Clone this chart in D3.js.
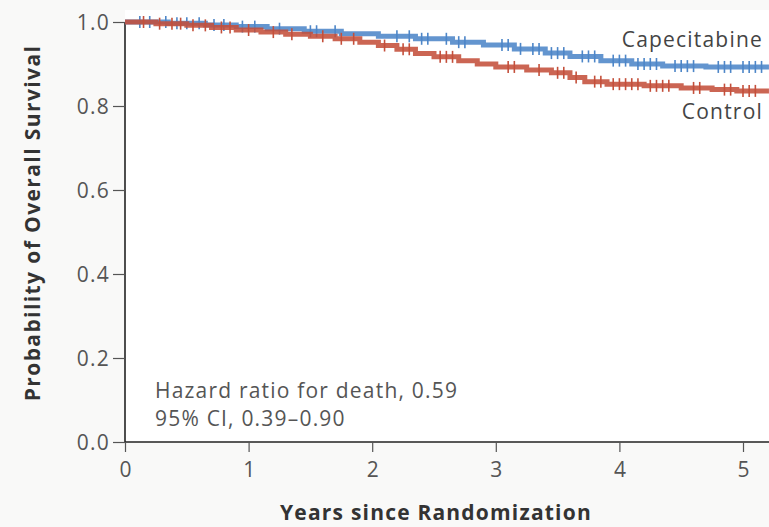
<!DOCTYPE html>
<html>
<head>
<meta charset="utf-8">
<script src="https://cdn.jsdelivr.net/npm/d3@7"></script>
<style>
  html, body { margin: 0; padding: 0; background: #f9f9f8; }
  svg { display: block; }
  text { font-family: "Open Sans", "DejaVu Sans", sans-serif; }
</style>
</head>
<body>
<svg id="chart" width="769" height="527"></svg>
<script>
// Kaplan-Meier step estimates: [years, survival probability]
const capecitabineSteps = [
  [0, 1.0], [0.35, 0.997], [0.65, 0.993], [0.9, 0.989], [1.15, 0.984],
  [1.45, 0.978], [1.75, 0.972], [2.05, 0.966], [2.35, 0.960], [2.65, 0.952],
  [2.9, 0.945], [3.15, 0.936], [3.4, 0.926], [3.6, 0.918], [3.85, 0.908],
  [4.1, 0.900], [4.35, 0.895], [4.7, 0.893]
];
const controlSteps = [
  [0, 1.0], [0.25, 0.996], [0.5, 0.992], [0.7, 0.987], [0.9, 0.981],
  [1.1, 0.976], [1.3, 0.971], [1.5, 0.966], [1.7, 0.960], [1.9, 0.952],
  [2.05, 0.944], [2.2, 0.935], [2.35, 0.925], [2.5, 0.917], [2.7, 0.908],
  [2.85, 0.900], [3.0, 0.893], [3.25, 0.886], [3.45, 0.879], [3.6, 0.868],
  [3.72, 0.858], [3.9, 0.852], [4.2, 0.848], [4.5, 0.843], [4.75, 0.839],
  [4.95, 0.836]
];
// Censoring times (years)
const capecitabineCensored = [
  0.12, 0.2, 0.33, 0.42, 0.5, 0.6, 0.72, 0.8, 0.95, 1.05, 1.25, 1.5, 1.55,
  1.7, 2.2, 2.3, 2.4, 2.45, 2.6, 2.7, 2.75, 3.05, 3.1, 3.2, 3.3, 3.35, 3.45,
  3.5, 3.55, 3.7, 3.75, 3.8, 3.95, 4.0, 4.05, 4.15, 4.2, 4.25, 4.3, 4.45,
  4.5, 4.55, 4.6, 4.8, 4.85, 4.9, 5.0, 5.05, 5.1, 5.15
];
const controlCensored = [
  0.15, 0.28, 0.38, 0.45, 0.55, 0.65, 0.78, 0.85, 1.0, 1.2, 1.35, 1.6, 1.75,
  1.85, 2.1, 2.25, 2.3, 2.55, 2.6, 2.65, 3.1, 3.15, 3.35, 3.5, 3.55, 3.65,
  3.8, 3.85, 3.95, 4.0, 4.05, 4.1, 4.15, 4.25, 4.3, 4.35, 4.4, 4.6, 4.65,
  4.85, 4.9, 5.0, 5.05, 5.1
];
const xTicks = [0, 1, 2, 3, 4, 5];
const yTicks = [0.0, 0.2, 0.4, 0.6, 0.8, 1.0];
const endYear = 5.21;

const svg = d3.select("#chart");
const x = d3.scaleLinear().domain([0, 5]).range([125, 743]);
const y = d3.scaleLinear().domain([0, 1]).range([442, 22]);

const defs = svg.append("defs");
defs.append("filter").attr("id", "soft")
  .append("feGaussianBlur").attr("stdDeviation", 0.7);

// plot area
svg.append("rect").attr("x", 125).attr("y", 10).attr("width", 644).attr("height", 432)
  .attr("fill", "#ffffff");

const labelStyle = sel => sel
  .attr("font-family", '"Open Sans", sans-serif')
  .attr("font-size", 21).attr("letter-spacing", 1.2);

// axes
const yAxis = d3.axisLeft(y).tickValues(yTicks).tickFormat(d3.format(".1f"))
  .tickSize(12).tickPadding(3);
const gy = svg.append("g").attr("transform", "translate(125,0)").call(yAxis);
gy.select(".domain").attr("d", `M0,${y(1)}V${y(0)}`);

const xAxis = d3.axisBottom(x).tickValues(xTicks).tickFormat(d3.format("d"))
  .tickSize(10).tickPadding(10);
const gx = svg.append("g").attr("transform", "translate(0,442)").call(xAxis);
gx.select(".domain").attr("d", `M${x(0)},0H769`);

svg.selectAll(".domain").attr("stroke", "#222").attr("stroke-width", 1.6);
svg.selectAll(".tick line").attr("stroke", "#555").attr("stroke-width", 1.2);
svg.selectAll(".tick text").call(labelStyle).attr("fill", "#555");
gy.selectAll(".tick text").attr("dy", "0.35em");
gx.selectAll(".tick text").attr("dx", "0.03em");

// survival curves
function stepPath(steps) {
  const pts = steps.slice();
  pts.push([endYear, steps[steps.length - 1][1]]);
  return d3.line().curve(d3.curveStepAfter).x(d => x(d[0])).y(d => y(d[1]))(pts);
}
function survivalAt(steps, t) {
  let s = steps[0][1];
  for (const [ti, si] of steps) { if (ti <= t) s = si; }
  return s;
}

const series = [
  { steps: capecitabineSteps, cens: capecitabineCensored, color: "#4d86c8" },
  { steps: controlSteps, cens: controlCensored, color: "#c4503b" }
];

const curves = svg.append("g").attr("filter", "url(#soft)");
series.forEach(s => {
  curves.append("path").attr("d", stepPath(s.steps))
    .attr("fill", "none").attr("stroke", s.color).attr("stroke-width", 5)
    .attr("stroke-opacity", 0.88);
  curves.selectAll(null).data(s.cens).enter().append("line")
    .attr("x1", d => x(d)).attr("x2", d => x(d))
    .attr("y1", d => y(survivalAt(s.steps, d)) - 6)
    .attr("y2", d => y(survivalAt(s.steps, d)) + 6)
    .attr("stroke", s.color).attr("stroke-width", 1.6);
});

// series labels
svg.append("text").attr("x", 763).attr("y", 47).attr("text-anchor", "end")
  .call(labelStyle).attr("fill", "#444").text("Capecitabine");
svg.append("text").attr("x", 763).attr("y", 119).attr("text-anchor", "end")
  .call(labelStyle).attr("fill", "#444").text("Control");

// hazard ratio annotation
svg.append("text").attr("x", 155).attr("y", 398)
  .call(labelStyle).attr("fill", "#555").text("Hazard ratio for death, 0.59");
svg.append("text").attr("x", 155).attr("y", 426)
  .call(labelStyle).attr("fill", "#555").text("95% CI, 0.39\u20130.90");

// axis titles
svg.append("text").attr("x", 436).attr("y", 520).attr("text-anchor", "middle")
  .attr("font-size", 21).attr("letter-spacing", 1.2).attr("font-weight", "bold")
  .attr("fill", "#333").text("Years since Randomization");
svg.append("text").attr("transform", "translate(40,223) rotate(-90)")
  .attr("text-anchor", "middle").attr("font-size", 21).attr("letter-spacing", 1.4)
  .attr("font-weight", "bold").attr("fill", "#333")
  .text("Probability of Overall Survival");
</script>
</body>
</html>
